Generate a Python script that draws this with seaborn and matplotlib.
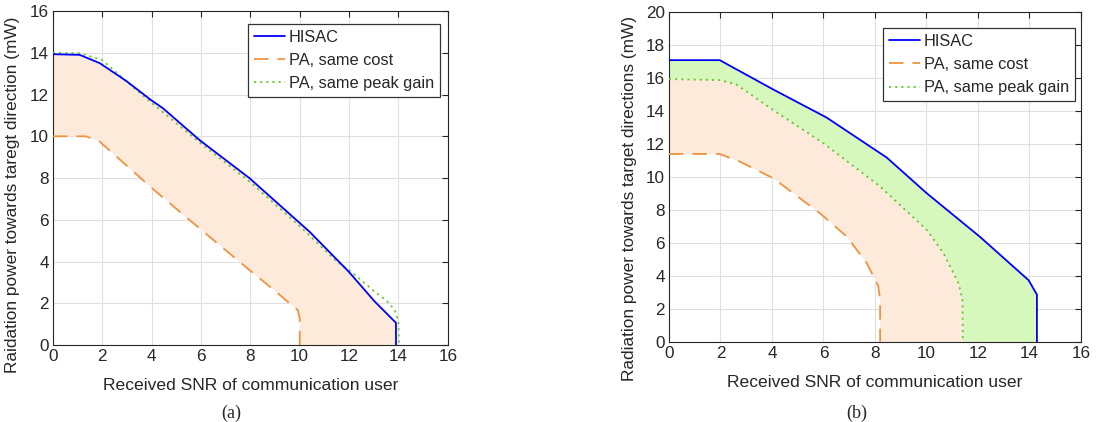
import matplotlib
matplotlib.use("Agg")
import matplotlib.pyplot as plt
import seaborn as sns
import numpy as np

# ---------------- data (a) ----------------
a_hisac_x = [0, 1.08, 1.9, 2.97, 3.97, 4.46, 5.94, 7.97, 9.99, 10.4, 12.0, 13.03, 13.9, 13.9]
a_hisac_y = [13.93, 13.9, 13.5, 12.65, 11.74, 11.34, 9.82, 7.99, 5.86, 5.43, 3.5, 2.1, 1.07, 0]
a_cost_x = [0, 1.35, 1.9, 3.98, 5.94, 7.97, 9.0, 9.59, 9.92, 10.0, 10.0]
a_cost_y = [10.0, 10.0, 9.74, 7.55, 5.59, 3.59, 2.6, 2.0, 1.68, 1.28, 0]
a_peak_x = [0, 1.08, 2.0, 3.0, 4.0, 6.0, 8.0, 10.0, 11.5, 12.0, 13.0, 13.5, 13.85, 14.0, 14.02]
a_peak_y = [14.0, 13.98, 13.65, 12.6, 11.6, 9.65, 7.8, 5.7, 4.0, 3.6, 2.6, 2.15, 1.7, 1.1, 0]

# ---------------- data (b) ----------------
b_hisac_x = [0, 1.97, 4.05, 6.12, 8.46, 10.01, 12.09, 13.97, 14.29, 14.29]
b_hisac_y = [17.08, 17.08, 15.3, 13.6, 11.17, 9.01, 6.35, 3.73, 2.86, 0]
b_peak_x = [0, 1.97, 2.62, 4.05, 6.0, 8.2, 10.01, 10.66, 11.24, 11.4, 11.41]
b_peak_y = [15.93, 15.87, 15.6, 14.05, 12.04, 9.42, 6.79, 5.38, 3.57, 2.56, 0]
b_cost_x = [0, 1.97, 2.75, 4.05, 5.86, 6.9, 7.68, 8.13, 8.2, 8.2]
b_cost_y = [11.39, 11.39, 10.93, 9.92, 7.8, 6.39, 4.78, 3.37, 2.56, 0]

labels = ["HISAC", "PA, same cost", "PA, same peak gain"]
xlabel = "Received SNR of communication user"
ylabel_a = "Raidation power towards taregt direction (mW)"
ylabel_b = "Radiation power towards target directions (mW)"

C_BLUE = "#0000FF"
C_ORANGE = "#EE9440"
C_GREEN = "#66C832"
F_PEACH = "#FDEADB"
F_GREEN = "#D6F8BC"

sns.set_theme(style="white")
plt.rcParams["font.family"] = ["Liberation Sans", "DejaVu Sans"]

fig = plt.figure(figsize=(11.03, 4.22), dpi=100)
ax1 = fig.add_axes([0.048, 0.182, 0.358, 0.792])
ax2 = fig.add_axes([0.6065, 0.19, 0.3735, 0.7816])


def region(ax, ux, uy, lx, ly, color):
    px = list(ux) + list(lx)[::-1]
    py = list(uy) + list(ly)[::-1]
    ax.fill(px, py, color=color, lw=0, zorder=1)


def lines(ax, hx, hy, cx, cy, px, py):
    sns.lineplot(x=hx, y=hy, sort=False, estimator=None, ax=ax, color=C_BLUE,
                 lw=1.3, label=labels[0], zorder=4)
    sns.lineplot(x=cx, y=cy, sort=False, estimator=None, ax=ax, color=C_ORANGE,
                 lw=1.3, label=labels[1], dashes=(8, 5), zorder=3)
    sns.lineplot(x=px, y=py, sort=False, estimator=None, ax=ax, color=C_GREEN,
                 lw=1.3, label=labels[2], dashes=(1.2, 2.2), zorder=3)


# (a)
region(ax1, a_hisac_x, a_hisac_y, a_cost_x, a_cost_y, F_PEACH)
lines(ax1, a_hisac_x, a_hisac_y, a_cost_x, a_cost_y, a_peak_x, a_peak_y)
# (b)
region(ax2, b_hisac_x, b_hisac_y, b_peak_x, b_peak_y, F_GREEN)
region(ax2, b_peak_x, b_peak_y, b_cost_x, b_cost_y, F_PEACH)
lines(ax2, b_hisac_x, b_hisac_y, b_cost_x, b_cost_y, b_peak_x, b_peak_y)

settings = [(ax1, 16, ylabel_a, (0.98, 0.961), (-0.083, 0.449)),
            (ax2, 20, ylabel_b, (0.985, 0.951), (-0.077, 0.436))]
for ax, ymax, ylab, anchor, ylc in settings:
    ax.set_xlim(0, 16)
    ax.set_ylim(0, ymax)
    ax.set_xticks(np.arange(0, 17, 2))
    ax.set_yticks(np.arange(0, ymax + 1, 2))
    ax.grid(True, color="#E0E0E0", lw=0.8, zorder=0)
    ax.set_axisbelow(True)
    ax.tick_params(direction="in", top=True, right=True, length=4, width=0.8,
                   color="#262626", labelsize=12.3, labelcolor="#262626", pad=3)
    for s in ax.spines.values():
        s.set_visible(True)
        s.set_color("#262626")
        s.set_linewidth(0.8)
    ax.set_xlabel(xlabel, fontsize=12.6, color="#262626", labelpad=10)
    ax.set_ylabel(ylab, fontsize=12.4, color="#262626")
    ax.yaxis.set_label_coords(*ylc)
    leg = ax.legend(loc="upper right", bbox_to_anchor=anchor, borderaxespad=0,
                    fontsize=11.8, frameon=True, fancybox=False,
                    edgecolor="#333333", framealpha=1, handlelength=1.9,
                    handletextpad=0.25, borderpad=0.35, labelspacing=0.5)
    leg.get_frame().set_linewidth(0.9)

fig.text(0.21, 0.01, "(a)", family="Liberation Serif", fontsize=13, ha="center")
fig.text(0.777, 0.01, "(b)", family="Liberation Serif", fontsize=13, ha="center")

fig.savefig("out.png", dpi=100)
